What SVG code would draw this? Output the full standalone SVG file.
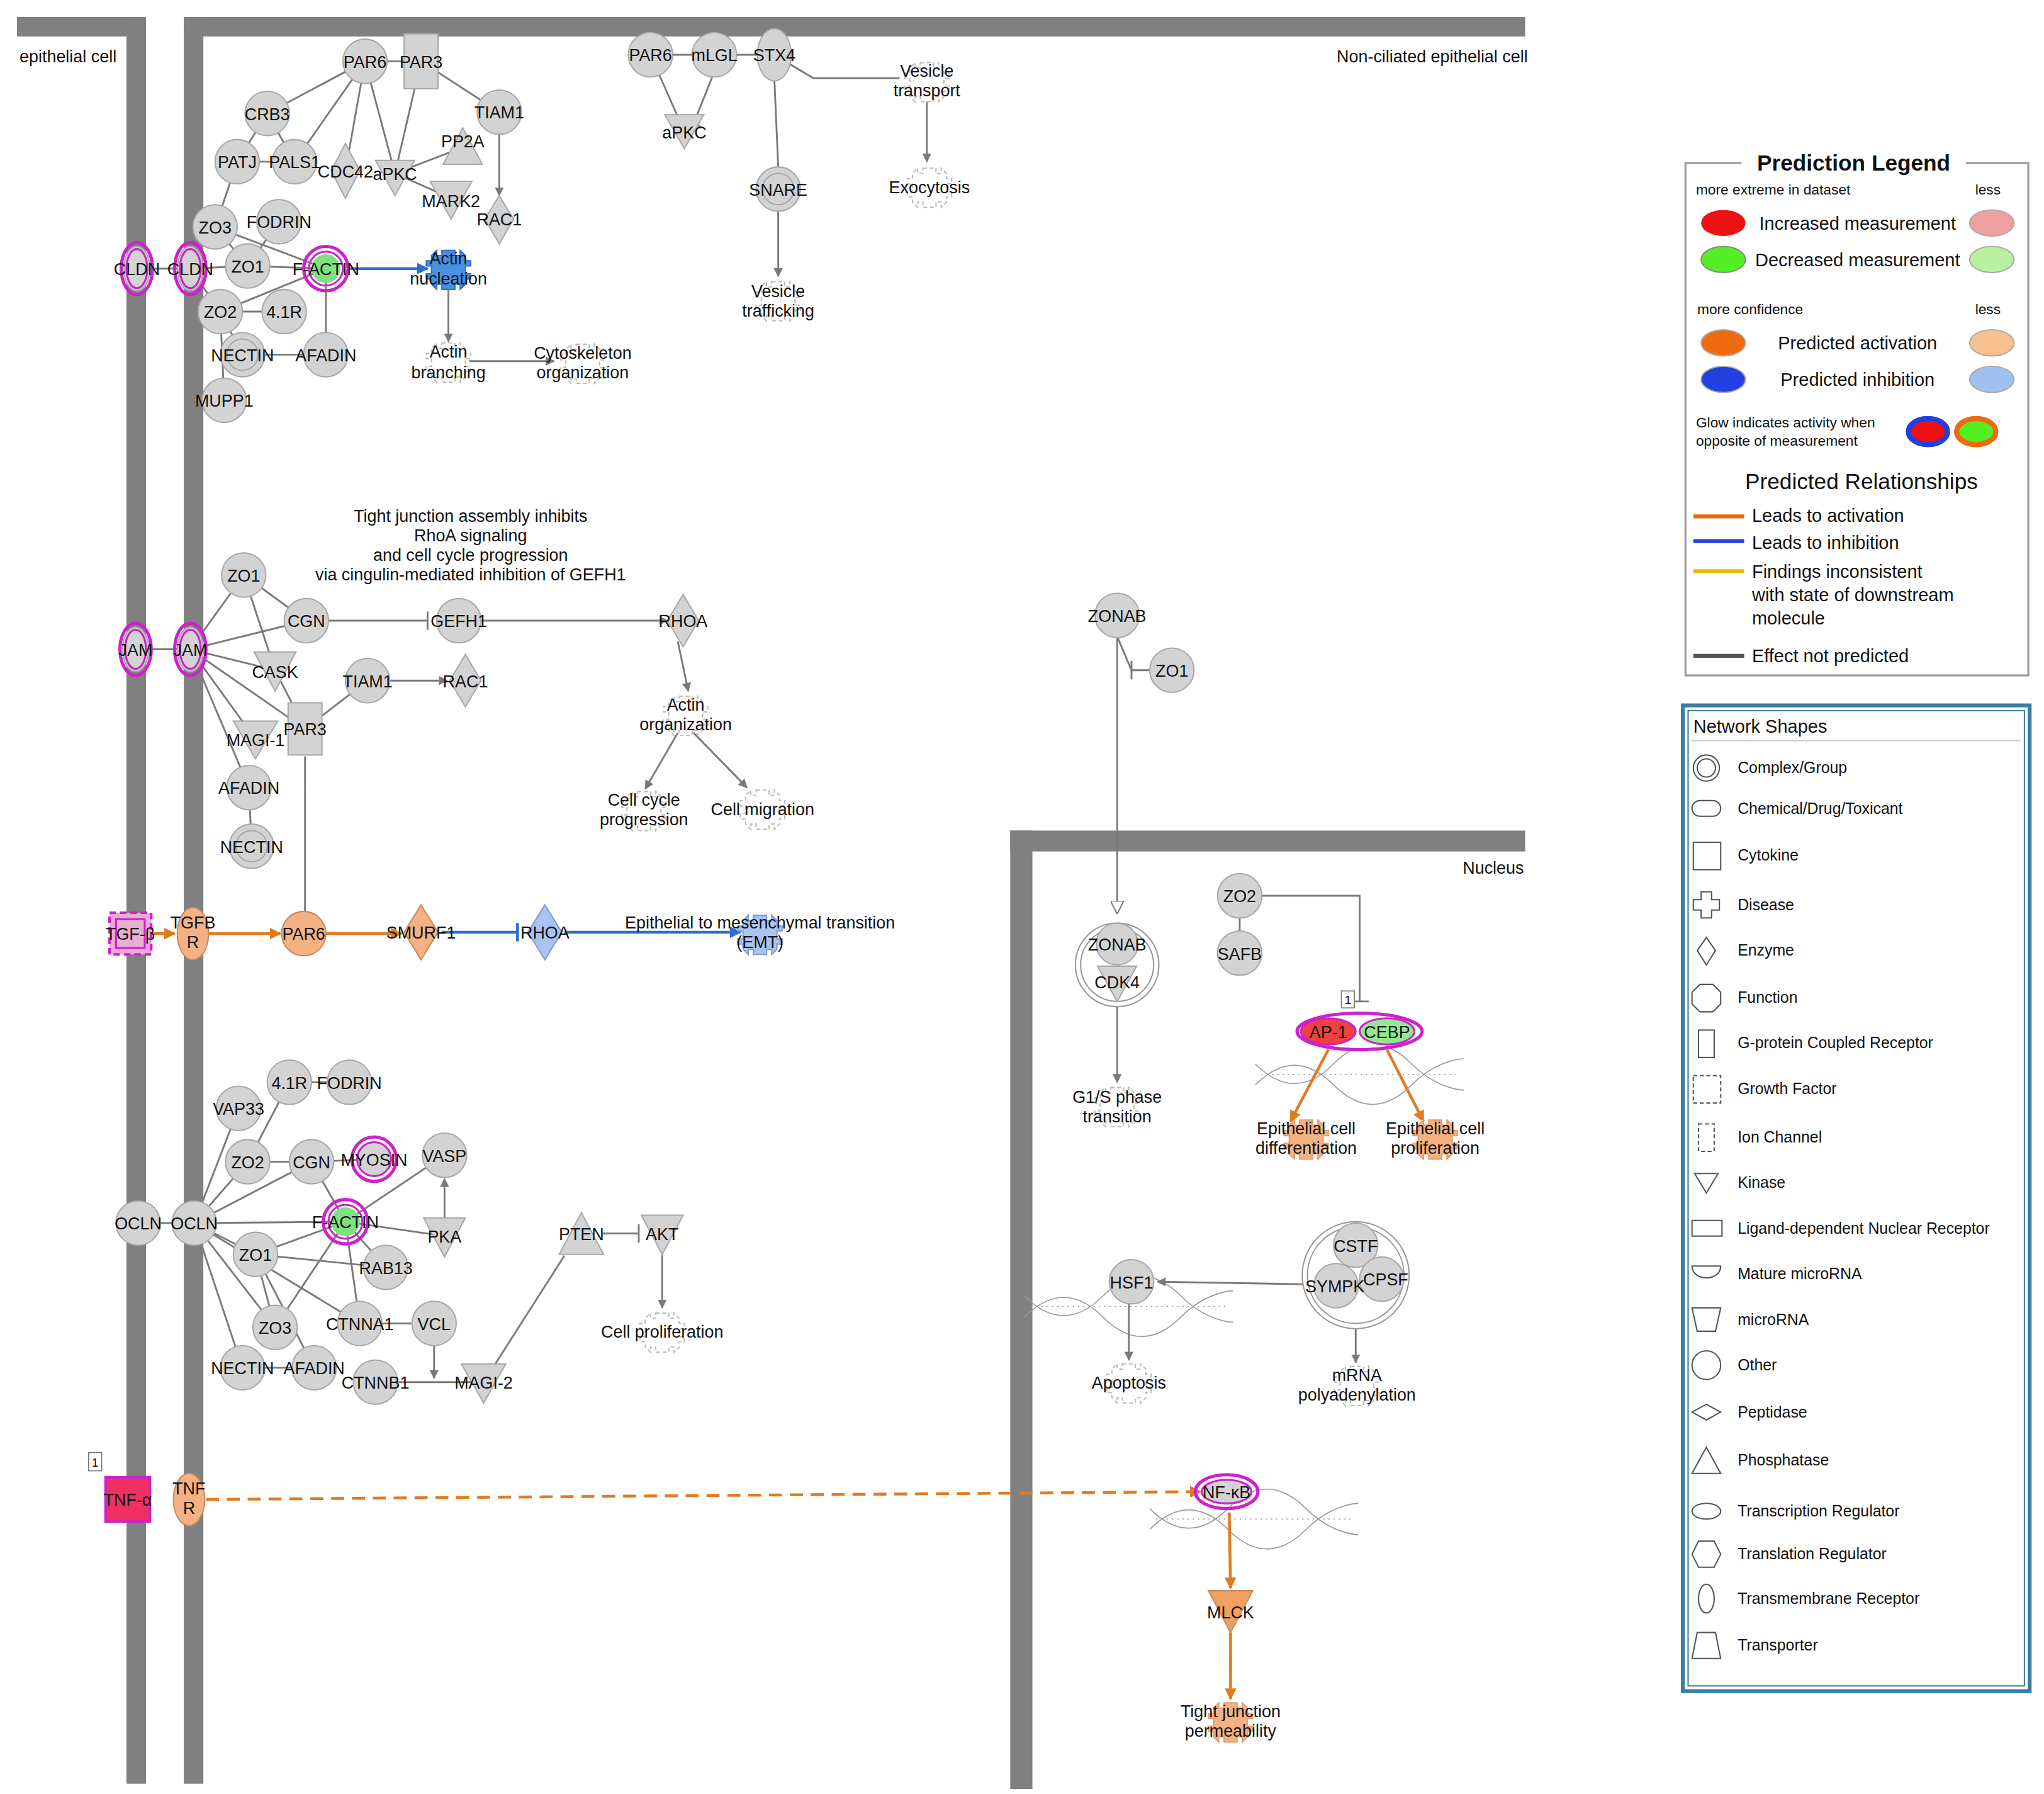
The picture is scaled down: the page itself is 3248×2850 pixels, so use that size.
<svg xmlns="http://www.w3.org/2000/svg" xmlns:xlink="http://www.w3.org/1999/xlink" width="3248" height="2850" viewBox="0 0 3248 2850">
<style>
text{font-family:"Liberation Sans",Arial,sans-serif;font-size:13px;fill:#111;text-anchor:middle}
.n{fill:#d3d3d3;stroke:#a8a8a8;stroke-width:1}
.lo{fill:#f4b183;stroke:#c98a5a;stroke-width:1}
.lb{fill:#a9c4f0;stroke:#7d9bd0;stroke-width:1}
.mg{fill:none;stroke:#cc22cc;stroke-width:2.5}
.fn{fill:#fff;stroke:#bbb;stroke-width:1;stroke-dasharray:3 2}
.e{stroke:#7a7a7a;stroke-width:1.4;fill:none}
.ea{stroke:#7a7a7a;stroke-width:1.4;fill:none;marker-end:url(#ag)}
.eo{stroke:#e07b20;stroke-width:2.2;fill:none;marker-end:url(#ao)}
.eb{stroke:#2a6fd0;stroke-width:2.2;fill:none;marker-end:url(#ab)}
.wall{fill:#808080}
.lg{font-size:13px;text-anchor:start}
.dna{stroke:#999;stroke-width:0.8;fill:none}
</style>
<defs>
<marker id="ag" viewBox="0 0 10 10" refX="9" refY="5" markerWidth="7" markerHeight="7" orient="auto" markerUnits="userSpaceOnUse"><path d="M0,0L10,5L0,10z" fill="#7a7a7a"/></marker>
<marker id="ao" viewBox="0 0 10 10" refX="9" refY="5" markerWidth="9" markerHeight="9" orient="auto" markerUnits="userSpaceOnUse"><path d="M0,0L10,5L0,10z" fill="#e07b20"/></marker>
<marker id="ab" viewBox="0 0 10 10" refX="9" refY="5" markerWidth="9" markerHeight="9" orient="auto" markerUnits="userSpaceOnUse"><path d="M0,0L10,5L0,10z" fill="#2a6fd0"/></marker>
<marker id="aw" viewBox="0 0 10 10" refX="9" refY="5" markerWidth="10" markerHeight="10" orient="auto" markerUnits="userSpaceOnUse"><path d="M0,0L10,5L0,10z" fill="#fff" stroke="#7a7a7a"/></marker>
<path id="fshape" d="M-5,-14h10v4h4v-4h0l4,4v4h4l0,4h-4v6h4v4h-4v4l-4,4v-4h-4v4h-10v-4h-4v4l-4,-4v-4h-4v-4h4v-6h-4v-4h4v-4l4,-4v4h4z"/>
<g id="dna"><path class="dna" d="M-80,-8C-60,12 -40,12 -20,-8S20,-28 40,-8S80,12 80,12"/><path class="dna" d="M-80,8C-60,-12 -40,-12 -20,8S20,28 40,8S80,-12 80,-12"/><path class="dna" d="M-75,0L75,0" stroke-dasharray="1 3"/></g>
</defs>
<rect width="3248" height="2850" fill="#fff"/>
<g transform="scale(2.0714)">
<g id="compartments">
<rect class="wall" x="13" y="13" width="99" height="15"/>
<rect class="wall" x="97" y="13" width="15" height="1355"/>
<rect class="wall" x="141" y="13" width="1029" height="15"/>
<rect class="wall" x="141" y="13" width="15" height="1355"/>
<rect class="wall" x="775" y="637" width="395" height="16"/>
<rect class="wall" x="775" y="637" width="17" height="735"/>
<text x="15" y="48" style="text-anchor:start">epithelial cell</text>
<text x="1172" y="48" style="text-anchor:end">Non-ciliated epithelial cell</text>
<text x="1169" y="670" style="text-anchor:end">Nucleus</text>
<text x="361" y="400">Tight junction assembly inhibits</text>
<text x="361" y="415">RhoA signaling</text>
<text x="361" y="430">and cell cycle progression</text>
<text x="361" y="445">via cingulin-mediated inhibition of GEFH1</text>
<use xlink:href="#dna" x="1043" y="824"/>
<use xlink:href="#dna" x="866" y="1002"/>
<use xlink:href="#dna" x="962" y="1165"/>
</g>
<g id="connectors">
<path class="e" d="M280,47L323,47M280,47L205,87M280,47L226,124M280,47L265,131M280,47L303,133M323,47L303,133M323,47L383,86M205,87L182,124M205,87L226,124M182,124L226,124M182,124L165,174M303,133L355,113M303,133L346,152M165,174L250,206M165,174L190,204M214,170L190,204M105,206L146,206M146,206L190,204M190,204L250,206M169,239L250,206M169,239L218,239M169,239L186,272M169,239L172,307M169,239L146,206M186,272L250,272M250,206L250,272"/>
<path class="ea" d="M383,103L383,150"/>
<path class="eb" d="M268,206L328,206"/>
<path class="ea" d="M344,222L344,262"/>
<path class="ea" d="M360,277L425,277"/>
<path class="e" d="M499,42L594,42M499,42L525,101M594,42L624,60L690,60M594,60L597,128"/>
<path class="e" d="M548,55L532,95M527,90L538,98"/>
<path class="ea" d="M711,76L711,124"/>
<path class="ea" d="M597,162L597,212"/>
<path class="e" d="M104,498L146,498M146,498L187,441M146,498L235,476M146,498L211,514M146,498L234,559M146,498L196,567M146,498L191,604M187,441L235,476M187,441L211,514M211,514L234,559M234,559L282,522M191,604L193,649M234,580L234,700M235,476L328,476M328,469L328,483"/>
<path class="ea" d="M369,476L512,476"/>
<path class="ea" d="M299,522L343,522"/>
<path class="ea" d="M520,492L528,530"/>
<path class="ea" d="M520,562L495,605"/>
<path class="ea" d="M532,562L573,604"/>
<path class="eo" d="M112,716L134,716"/>
<path class="eo" d="M158,716L215,716"/>
<path class="eo" d="M250,716L308,716"/>
<path class="e" d="M339,715L397,715" style="stroke:#2a6fd0;stroke-width:2.2"/>
<path d="M397,708L397,722" style="stroke:#2a6fd0;stroke-width:2.2"/>
<path class="eb" d="M433,715L568,715"/>
<path class="e" d="M106,938L149,938M149,938L183,850M149,938L190,891M149,938L239,891M149,938L265,937M149,938L196,962M149,938L211,1018M149,938L186,1049M149,938L276,1015M190,891L239,891M190,891L222,830M222,830L268,830M239,891L287,889M239,891L265,937M196,962L265,937M265,937L341,886M265,937L341,948M265,937L296,972M196,962L296,972M196,962L211,1018M265,937L211,1018M265,937L276,1015M276,1015L333,1015M186,1049L241,1049M196,962L241,1049M288,1060L371,1060M371,1060L433,963"/>
<path class="ea" d="M341,935L341,904"/>
<path class="ea" d="M333,1031L333,1057"/>
<path class="e" d="M462,946L490,946M490,939L490,953"/>
<path class="ea" d="M508,960L508,1003"/>
<path class="e" d="M857,488L868,514L882,514M868,507L868,521"/>
<path class="e" d="M857,488L857,700" marker-end="url(#aw)"/>
<path class="ea" d="M857,770L857,830"/>
<path class="e" d="M968,687L1043,687L1043,768M1036,768L1050,768M951,704L951,714"/>
<path class="eo" d="M1019,805L990,860"/>
<path class="eo" d="M1064,805L1092,860"/>
<path class="ea" d="M1003,985L888,983"/>
<path class="ea" d="M866,1000L866,1043"/>
<path class="ea" d="M1040,1012L1040,1045"/>
<path class="eo" d="M158,1150L921,1144" style="stroke-dasharray:10 6"/>
<path class="eo" d="M943,1160L944,1218"/>
<path class="eo" d="M944,1252L944,1303"/>
</g>
<g id="n_PAR6a"><circle class="n" cx="280" cy="47" r="17"/><text x="280" y="52">PAR6</text></g>
<g id="n_PAR3a"><rect class="n" x="310" y="26" width="26" height="42"/><text x="323" y="52">PAR3</text></g>
<g id="n_CRB3"><circle class="n" cx="205" cy="87" r="17"/><text x="205" y="92">CRB3</text></g>
<g id="n_TIAM1a"><circle class="n" cx="383" cy="86" r="17"/><text x="383" y="91">TIAM1</text></g>
<g id="n_PATJ"><circle class="n" cx="182" cy="124" r="17"/><text x="182" y="129">PATJ</text></g>
<g id="n_PALS1"><circle class="n" cx="226" cy="124" r="17"/><text x="226" y="129">PALS1</text></g>
<g id="n_CDC42"><path class="n" d="M265,110L276,131L265,152L254,131z"/><text x="265" y="136">CDC42</text></g>
<g id="n_aPKCa"><path class="n" d="M288,123L318,123L303,150z"/><text x="303" y="138">aPKC</text></g>
<g id="n_PP2A"><path class="n" d="M355,98L370,126L340,126z"/><text x="355" y="113">PP2A</text></g>
<g id="n_MARK2"><path class="n" d="M330,139L362,139L346,168z"/><text x="346" y="159">MARK2</text></g>
<g id="n_RAC1a"><path class="n" d="M383,150L394,168L383,187L372,168z"/><text x="383" y="173">RAC1</text></g>
<g id="n_ZO3a"><circle class="n" cx="165" cy="174" r="17"/><text x="165" y="179">ZO3</text></g>
<g id="n_FODRINa"><circle class="n" cx="214" cy="170" r="17"/><text x="214" y="175">FODRIN</text></g>
<g id="n_CLDN1"><ellipse class="n" cx="105" cy="206" rx="10" ry="17"/><ellipse class="mg" cx="105" cy="206" rx="12" ry="20"/><ellipse class="mg" cx="105" cy="206" rx="8" ry="15" style="stroke-width:1.5"/><text x="105" y="211">CLDN</text></g>
<g id="n_CLDN2"><ellipse class="n" cx="146" cy="206" rx="10" ry="17"/><ellipse class="mg" cx="146" cy="206" rx="12" ry="20"/><ellipse class="mg" cx="146" cy="206" rx="8" ry="15" style="stroke-width:1.5"/><text x="146" y="211">CLDN</text></g>
<g id="n_ZO1a"><circle class="n" cx="190" cy="204" r="17"/><text x="190" y="209">ZO1</text></g>
<g id="n_FACTINa"><circle cx="250" cy="206" r="11" fill="#7ee07e"/><circle class="mg" cx="250" cy="206" r="17"/><circle class="mg" cx="250" cy="206" r="13" style="stroke-width:1.5"/><text x="250" y="211">F-ACTIN</text></g>
<g id="n_ActinNuc"><use xlink:href="#fshape" x="344" y="206" fill="#4a90e2" stroke="#2a6fd0"/><text x="344" y="203">Actin</text><text x="344" y="218">nucleation</text></g>
<g id="n_ZO2a"><circle class="n" cx="169" cy="239" r="17"/><text x="169" y="244">ZO2</text></g>
<g id="n_41Ra"><circle class="n" cx="218" cy="239" r="17"/><text x="218" y="244">4.1R</text></g>
<g id="n_NECTINa"><circle class="n" cx="186" cy="272" r="17"/><circle class="n" cx="186" cy="272" r="12" style="fill:none"/><text x="186" y="277">NECTIN</text></g>
<g id="n_AFADINa"><circle class="n" cx="250" cy="272" r="17"/><text x="250" y="277">AFADIN</text></g>
<g id="n_MUPP1"><circle class="n" cx="172" cy="307" r="17"/><text x="172" y="312">MUPP1</text></g>
<g id="n_ActinBr"><use xlink:href="#fshape" x="344" y="277" class="fn"/><text x="344" y="274">Actin</text><text x="344" y="290">branching</text></g>
<g id="n_Cyto"><use xlink:href="#fshape" x="447" y="278" class="fn"/><text x="447" y="275">Cytoskeleton</text><text x="447" y="290">organization</text></g>
<g id="n_PAR6b"><circle class="n" cx="499" cy="42" r="17"/><text x="499" y="47">PAR6</text></g>
<g id="n_mLGL"><circle class="n" cx="548" cy="42" r="17"/><text x="548" y="47">mLGL</text></g>
<g id="n_STX4"><ellipse class="n" cx="594" cy="42" rx="13" ry="20"/><text x="594" y="47">STX4</text></g>
<g id="n_aPKCb"><path class="n" d="M510,88L540,88L525,114z"/><text x="525" y="106">aPKC</text></g>
<g id="n_VesT"><use xlink:href="#fshape" x="711" y="62" class="fn"/><text x="711" y="59">Vesicle</text><text x="711" y="74">transport</text></g>
<g id="n_Exo"><use xlink:href="#fshape" x="713" y="143" class="fn"/><text x="713" y="148">Exocytosis</text></g>
<g id="n_SNARE"><circle class="n" cx="597" cy="145" r="17"/><circle class="n" cx="597" cy="145" r="12" style="fill:none"/><text x="597" y="150">SNARE</text></g>
<g id="n_VesTr"><use xlink:href="#fshape" x="597" y="230" class="fn"/><text x="597" y="228">Vesicle</text><text x="597" y="243">trafficking</text></g>
<g id="n_JAM1"><ellipse class="n" cx="104" cy="498" rx="10" ry="17"/><ellipse class="mg" cx="104" cy="498" rx="12" ry="20"/><ellipse class="mg" cx="104" cy="498" rx="8" ry="15" style="stroke-width:1.5"/><text x="104" y="503">JAM</text></g>
<g id="n_JAM2"><ellipse class="n" cx="146" cy="498" rx="10" ry="17"/><ellipse class="mg" cx="146" cy="498" rx="12" ry="20"/><ellipse class="mg" cx="146" cy="498" rx="8" ry="15" style="stroke-width:1.5"/><text x="146" y="503">JAM</text></g>
<g id="n_ZO1b"><circle class="n" cx="187" cy="441" r="17"/><text x="187" y="446">ZO1</text></g>
<g id="n_CGNb"><circle class="n" cx="235" cy="476" r="17"/><text x="235" y="481">CGN</text></g>
<g id="n_GEFH1"><circle class="n" cx="352" cy="476" r="17"/><text x="352" y="481">GEFH1</text></g>
<g id="n_RHOAa"><path class="n" d="M524,456L536,476L524,496L512,476z"/><text x="524" y="481">RHOA</text></g>
<g id="n_CASK"><path class="n" d="M195,500L227,500L211,530z"/><text x="211" y="520">CASK</text></g>
<g id="n_TIAM1b"><circle class="n" cx="282" cy="522" r="17"/><text x="282" y="527">TIAM1</text></g>
<g id="n_RAC1b"><path class="n" d="M357,502L369,522L357,542L345,522z"/><text x="357" y="527">RAC1</text></g>
<g id="n_PAR3b"><rect class="n" x="221" y="539" width="26" height="40"/><text x="234" y="564">PAR3</text></g>
<g id="n_MAGI1"><path class="n" d="M179,553L213,553L196,582z"/><text x="196" y="572">MAGI-1</text></g>
<g id="n_AFADINb"><circle class="n" cx="191" cy="604" r="17"/><text x="191" y="609">AFADIN</text></g>
<g id="n_NECTINb"><circle class="n" cx="193" cy="649" r="17"/><circle class="n" cx="193" cy="649" r="12" style="fill:none"/><text x="193" y="654">NECTIN</text></g>
<g id="n_ActOrg"><use xlink:href="#fshape" x="526" y="548" class="fn"/><text x="526" y="545">Actin</text><text x="526" y="560">organization</text></g>
<g id="n_CellCyc"><use xlink:href="#fshape" x="494" y="621" class="fn"/><text x="494" y="618">Cell cycle</text><text x="494" y="633">progression</text></g>
<g id="n_CellMig"><use xlink:href="#fshape" x="585" y="620" class="fn"/><text x="585" y="625">Cell migration</text></g>
<g id="n_TGFB"><rect x="84" y="700" width="32" height="32" fill="#f0a8d8" stroke="#cc22cc" stroke-width="2" stroke-dasharray="5 3"/><rect x="89" y="705" width="22" height="22" fill="#e8b0d0" stroke="#cc22cc" stroke-width="1.5"/><text x="100" y="721">TGF-β</text></g>
<g id="n_TGFBR"><ellipse class="lo" cx="148" cy="716" rx="12" ry="20"/><text x="148" y="712">TGFB</text><text x="148" y="727">R</text></g>
<g id="n_PAR6c"><circle class="lo" cx="233" cy="716" r="17"/><text x="233" y="721">PAR6</text></g>
<g id="n_SMURF1"><path class="lo" d="M323,694L336,715L323,736L310,715z"/><text x="323" y="720">SMURF1</text></g>
<g id="n_RHOAb"><path class="lb" d="M418,694L431,715L418,736L405,715z"/><text x="418" y="720">RHOA</text></g>
<g id="n_EMT"><use xlink:href="#fshape" x="583" y="716" fill="#a9c4f0" stroke="#7d9bd0"/><text x="583" y="712">Epithelial to mesenchymal transition</text><text x="583" y="727">(EMT)</text></g>
<g id="n_41Rb"><circle class="n" cx="222" cy="830" r="17"/><text x="222" y="835">4.1R</text></g>
<g id="n_FODRINb"><circle class="n" cx="268" cy="830" r="17"/><text x="268" y="835">FODRIN</text></g>
<g id="n_VAP33"><circle class="n" cx="183" cy="850" r="17"/><text x="183" y="855">VAP33</text></g>
<g id="n_ZO2b"><circle class="n" cx="190" cy="891" r="17"/><text x="190" y="896">ZO2</text></g>
<g id="n_CGNc"><circle class="n" cx="239" cy="891" r="17"/><text x="239" y="896">CGN</text></g>
<g id="n_MYOSIN"><circle class="n" cx="287" cy="889" r="13"/><circle class="mg" cx="287" cy="889" r="17"/><circle class="mg" cx="287" cy="889" r="13" style="stroke-width:1.5"/><text x="287" y="894">MYOSIN</text></g>
<g id="n_VASP"><circle class="n" cx="341" cy="886" r="17"/><text x="341" y="891">VASP</text></g>
<g id="n_OCLN1"><circle class="n" cx="106" cy="938" r="17"/><text x="106" y="943">OCLN</text></g>
<g id="n_OCLN2"><circle class="n" cx="149" cy="938" r="17"/><text x="149" y="943">OCLN</text></g>
<g id="n_FACTINb"><circle cx="265" cy="937" r="11" fill="#7ee07e"/><circle class="mg" cx="265" cy="937" r="17"/><circle class="mg" cx="265" cy="937" r="13" style="stroke-width:1.5"/><text x="265" y="942">F-ACTIN</text></g>
<g id="n_PKA"><path class="n" d="M325,934L357,934L341,964z"/><text x="341" y="953">PKA</text></g>
<g id="n_ZO1c"><circle class="n" cx="196" cy="962" r="17"/><text x="196" y="967">ZO1</text></g>
<g id="n_RAB13"><circle class="n" cx="296" cy="972" r="17"/><text x="296" y="977">RAB13</text></g>
<g id="n_PTEN"><path class="n" d="M446,930L463,962L429,962z"/><text x="446" y="951">PTEN</text></g>
<g id="n_AKT"><path class="n" d="M492,932L524,932L508,962z"/><text x="508" y="951">AKT</text></g>
<g id="n_CellProl"><use xlink:href="#fshape" x="508" y="1021" class="fn"/><text x="508" y="1026">Cell proliferation</text></g>
<g id="n_ZO3b"><circle class="n" cx="211" cy="1018" r="17"/><text x="211" y="1023">ZO3</text></g>
<g id="n_CTNNA1"><circle class="n" cx="276" cy="1015" r="17"/><text x="276" y="1020">CTNNA1</text></g>
<g id="n_VCL"><circle class="n" cx="333" cy="1015" r="17"/><text x="333" y="1020">VCL</text></g>
<g id="n_NECTINc"><circle class="n" cx="186" cy="1049" r="17"/><text x="186" y="1054">NECTIN</text></g>
<g id="n_AFADINc"><circle class="n" cx="241" cy="1049" r="17"/><text x="241" y="1054">AFADIN</text></g>
<g id="n_CTNNB1"><circle class="n" cx="288" cy="1060" r="17"/><text x="288" y="1065">CTNNB1</text></g>
<g id="n_MAGI2"><path class="n" d="M354,1046L388,1046L371,1076z"/><text x="371" y="1065">MAGI-2</text></g>
<g id="n_TNFa"><rect x="68" y="1114" width="10" height="14" fill="#fff" stroke="#777" stroke-width="0.8"/><text x="73" y="1125" style="font-size:9px">1</text><rect x="81" y="1133" width="34" height="34" fill="#f03060" stroke="#cc22cc" stroke-width="2"/><text x="98" y="1155">TNF-α</text></g>
<g id="n_TNFR"><ellipse class="lo" cx="145" cy="1150" rx="12" ry="20"/><text x="145" y="1146">TNF</text><text x="145" y="1161">R</text></g>
<g id="n_NFKB"><ellipse cx="941" cy="1144" rx="20" ry="10" fill="#d3d3d3"/><ellipse class="mg" cx="941" cy="1144" rx="24" ry="13"/><ellipse class="mg" cx="941" cy="1144" rx="19" ry="9" style="stroke-width:1.5"/><text x="941" y="1149">NF-κB</text></g>
<g id="n_MLCK"><path class="lo" d="M927,1220L961,1220L944,1252z" style="fill:#f0a060"/><text x="944" y="1241">MLCK</text></g>
<g id="n_TJP"><use xlink:href="#fshape" x="944" y="1320" fill="#f4b183" stroke="#e0a070"/><text x="944" y="1317">Tight junction</text><text x="944" y="1332">permeability</text></g>
<g id="n_ZONAB"><circle class="n" cx="857" cy="472" r="17"/><text x="857" y="477">ZONAB</text></g>
<g id="n_ZO1d"><circle class="n" cx="899" cy="514" r="17"/><text x="899" y="519">ZO1</text></g>
<g id="n_ZONABCDK4"><circle cx="857" cy="740" r="32" fill="#fff" stroke="#999"/><circle cx="857" cy="740" r="28" fill="none" stroke="#999"/><circle class="n" cx="857" cy="724" r="16"/><path class="n" d="M842,741L872,741L857,768z"/><text x="857" y="729">ZONAB</text><text x="857" y="758">CDK4</text></g>
<g id="n_G1S"><use xlink:href="#fshape" x="857" y="848" class="fn"/><text x="857" y="846">G1/S phase</text><text x="857" y="861">transition</text></g>
<g id="n_ZO2c"><circle class="n" cx="951" cy="687" r="17"/><text x="951" y="692">ZO2</text></g>
<g id="n_SAFB"><circle class="n" cx="951" cy="731" r="17"/><text x="951" y="736">SAFB</text></g>
<g id="n_AP1CEBP"><rect x="1029" y="760" width="10" height="13" fill="#fff" stroke="#777" stroke-width="0.8"/><text x="1034" y="770" style="font-size:9px">1</text><ellipse cx="1043" cy="791" rx="48" ry="14" fill="#fff" stroke="#cc22cc" stroke-width="2.5"/><ellipse cx="1019" cy="791" rx="21" ry="10" fill="#f04040" stroke="#cc22cc" stroke-width="1.5"/><ellipse cx="1064" cy="791" rx="21" ry="10" fill="#90e890" stroke="#cc22cc" stroke-width="1.5"/><text x="1019" y="796">AP-1</text><text x="1064" y="796">CEBP</text></g>
<g id="n_EpiDiff"><use xlink:href="#fshape" x="1002" y="873" fill="#f4b183" stroke="#e0a070"/><text x="1002" y="870">Epithelial cell</text><text x="1002" y="885">differentiation</text></g>
<g id="n_EpiProl"><use xlink:href="#fshape" x="1101" y="873" fill="#f4b183" stroke="#e0a070"/><text x="1101" y="870">Epithelial cell</text><text x="1101" y="885">proliferation</text></g>
<g id="n_CPSFcx"><circle cx="1040" cy="978" r="41" fill="#fff" stroke="#999"/><circle cx="1040" cy="978" r="37" fill="none" stroke="#999"/><circle class="n" cx="1040" cy="955" r="17"/><circle class="n" cx="1025" cy="986" r="17"/><circle class="n" cx="1060" cy="981" r="17"/><text x="1040" y="960">CSTF</text><text x="1024" y="991">SYMPK</text><text x="1063" y="986">CPSF</text></g>
<g id="n_HSF1"><circle class="n" cx="868" cy="983" r="17"/><text x="868" y="988">HSF1</text></g>
<g id="n_Apop"><use xlink:href="#fshape" x="866" y="1060" class="fn"/><text x="866" y="1065">Apoptosis</text></g>
<g id="n_mRNA"><use xlink:href="#fshape" x="1041" y="1062" class="fn"/><text x="1041" y="1059">mRNA</text><text x="1041" y="1074">polyadenylation</text></g>
<g id="legend_prediction">
<rect x="1293" y="125" width="263" height="393" fill="#fff" stroke="#999" stroke-width="1.5"/>
<rect x="1336" y="114" width="172" height="20" fill="#fff"/>
<text x="1422" y="131" style="font-size:17px;font-weight:bold">Prediction Legend</text>
<text x="1301" y="149" class="lg" style="font-size:11px">more extreme in dataset</text><text x="1525" y="149" style="font-size:11px">less</text>
<ellipse cx="1322" cy="171" rx="17" ry="10" fill="#ee1111"/><text x="1425" y="176" style="font-size:14px">Increased measurement</text><ellipse cx="1528" cy="171" rx="17" ry="10" fill="#f0a0a0" stroke="#aaa"/>
<ellipse cx="1322" cy="199" rx="17" ry="10" fill="#55ee22" stroke="#888"/><text x="1425" y="204" style="font-size:14px">Decreased measurement</text><ellipse cx="1528" cy="199" rx="17" ry="10" fill="#b8f0a0" stroke="#aaa"/>
<text x="1302" y="241" class="lg" style="font-size:11px">more confidence</text><text x="1525" y="241" style="font-size:11px">less</text>
<ellipse cx="1322" cy="263" rx="17" ry="10" fill="#f06a10" stroke="#aaa"/><text x="1425" y="268" style="font-size:14px">Predicted activation</text><ellipse cx="1528" cy="263" rx="17" ry="10" fill="#f8c090" stroke="#aaa"/>
<ellipse cx="1322" cy="291" rx="17" ry="10" fill="#2040e0" stroke="#aaa"/><text x="1425" y="296" style="font-size:14px">Predicted inhibition</text><ellipse cx="1528" cy="291" rx="17" ry="10" fill="#a0c0f0" stroke="#aaa"/>
<text x="1301" y="328" class="lg" style="font-size:11px">Glow indicates activity when</text><text x="1301" y="342" class="lg" style="font-size:11px">opposite of measurement</text>
<ellipse cx="1479" cy="331" rx="15" ry="10" fill="#ee1111" stroke="#2040e0" stroke-width="4"/><ellipse cx="1516" cy="331" rx="15" ry="10" fill="#55ee22" stroke="#f06a10" stroke-width="4"/>
<text x="1428" y="375" style="font-size:17px">Predicted Relationships</text>
<path d="M1299,396H1338" stroke="#f06a10" stroke-width="3"/><text x="1344" y="400" class="lg" style="font-size:14px">Leads to activation</text>
<path d="M1299,415H1338" stroke="#2040e0" stroke-width="3"/><text x="1344" y="421" class="lg" style="font-size:14px">Leads to inhibition</text>
<path d="M1299,438H1338" stroke="#e0c000" stroke-width="3"/><text x="1344" y="443" class="lg" style="font-size:14px">Findings inconsistent</text><text x="1344" y="461" class="lg" style="font-size:14px">with state of downstream</text><text x="1344" y="479" class="lg" style="font-size:14px">molecule</text>
<path d="M1299,503H1338" stroke="#555" stroke-width="3"/><text x="1344" y="508" class="lg" style="font-size:14px">Effect not predicted</text>
</g>
<g id="legend_shapes">
<rect x="1291" y="541" width="266" height="756" fill="#fff" stroke="#3a7ca5" stroke-width="3"/>
<rect x="1295" y="545" width="258" height="748" fill="none" stroke="#3a7ca5" stroke-width="1"/>
<text x="1299" y="562" class="lg" style="font-size:14px">Network Shapes</text>
<path d="M1297,568H1550" stroke="#ccc"/>
<g fill="#fff" stroke="#555" stroke-width="1">
<circle cx="1309" cy="589" r="10"/><circle cx="1309" cy="589" r="7"/>
<rect x="1298" y="614" width="22" height="12" rx="6"/>
<rect x="1299" y="646" width="21" height="21"/>
<path d="M1305,684h8v6h6v8h-6v6h-8v-6h-6v-8h6z"/>
<path d="M1309,719L1316,729L1309,740L1302,729z"/>
<path d="M1304,755h10l6,6v9l-6,6h-10l-6,-6v-9z"/>
<rect x="1303" y="790" width="12" height="21"/>
<rect x="1299" y="825" width="21" height="21" stroke-dasharray="3 2"/>
<rect x="1303" y="862" width="12" height="21" stroke-dasharray="3 2"/>
<path d="M1300,900h18l-9,15z"/>
<rect x="1298" y="936" width="23" height="12"/>
<path d="M1298,971h22c0,12 -22,12 -22,0z"/>
<path d="M1298,1003h22l-4,18h-14z"/>
<circle cx="1309" cy="1047" r="11"/>
<path d="M1298,1083l11,-6l11,6l-11,6z"/>
<path d="M1309,1110l11,20h-22z"/>
<ellipse cx="1309" cy="1159" rx="11" ry="6"/>
<path d="M1303,1182h12l5,10l-5,10h-12l-5,-10z"/>
<ellipse cx="1309" cy="1226" rx="6" ry="11"/>
<path d="M1302,1252h14l4,20h-22z"/>
</g>
<g style="font-size:12px">
<text x="1333" y="593" class="lg" style="font-size:12px">Complex/Group</text>
<text x="1333" y="624" class="lg" style="font-size:12px">Chemical/Drug/Toxicant</text>
<text x="1333" y="660" class="lg" style="font-size:12px">Cytokine</text>
<text x="1333" y="698" class="lg" style="font-size:12px">Disease</text>
<text x="1333" y="733" class="lg" style="font-size:12px">Enzyme</text>
<text x="1333" y="769" class="lg" style="font-size:12px">Function</text>
<text x="1333" y="804" class="lg" style="font-size:12px">G-protein Coupled Receptor</text>
<text x="1333" y="839" class="lg" style="font-size:12px">Growth Factor</text>
<text x="1333" y="876" class="lg" style="font-size:12px">Ion Channel</text>
<text x="1333" y="911" class="lg" style="font-size:12px">Kinase</text>
<text x="1333" y="946" class="lg" style="font-size:12px">Ligand-dependent Nuclear Receptor</text>
<text x="1333" y="981" class="lg" style="font-size:12px">Mature microRNA</text>
<text x="1333" y="1016" class="lg" style="font-size:12px">microRNA</text>
<text x="1333" y="1051" class="lg" style="font-size:12px">Other</text>
<text x="1333" y="1087" class="lg" style="font-size:12px">Peptidase</text>
<text x="1333" y="1124" class="lg" style="font-size:12px">Phosphatase</text>
<text x="1333" y="1163" class="lg" style="font-size:12px">Transcription Regulator</text>
<text x="1333" y="1196" class="lg" style="font-size:12px">Translation Regulator</text>
<text x="1333" y="1230" class="lg" style="font-size:12px">Transmembrane Receptor</text>
<text x="1333" y="1266" class="lg" style="font-size:12px">Transporter</text>
</g>
</g>
</g>
</svg>
